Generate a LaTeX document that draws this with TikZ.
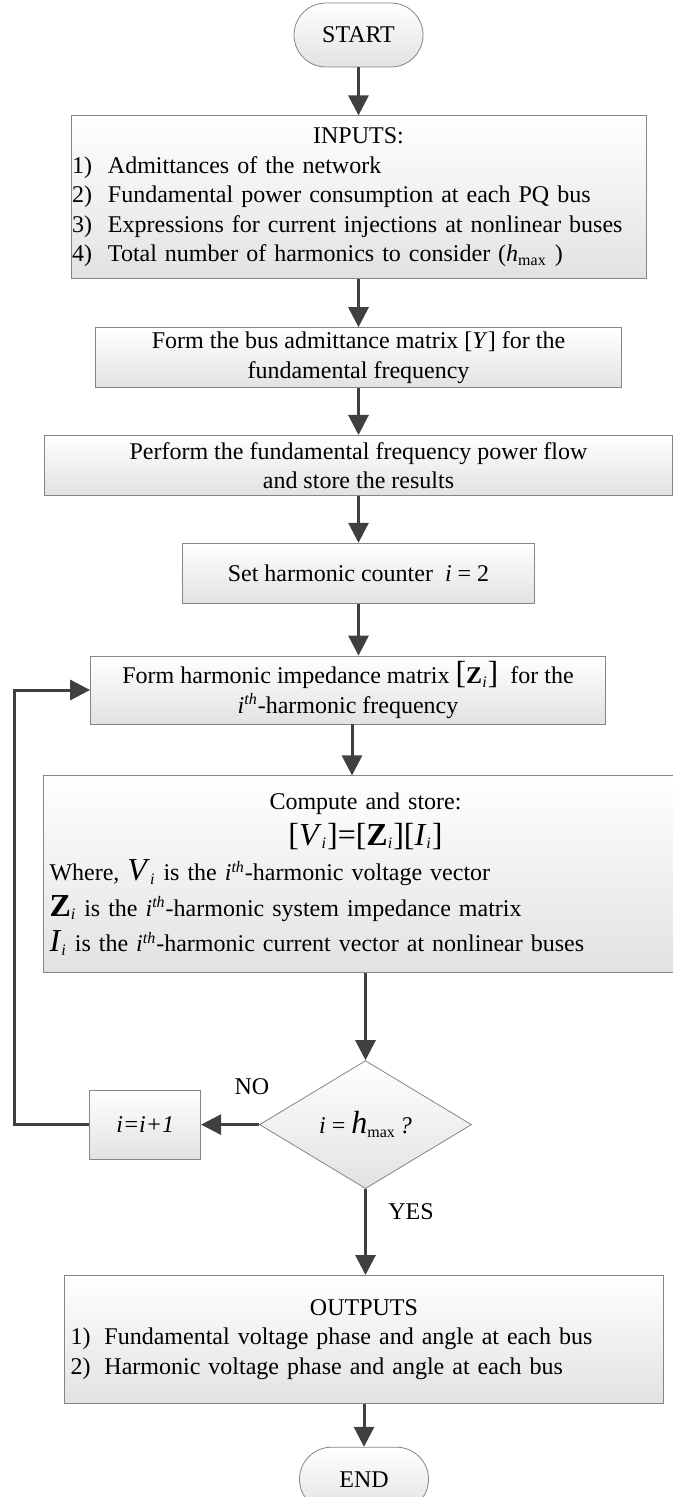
\documentclass[tikz,border=0pt]{standalone}
\usepackage{fontspec}
\setmainfont{Liberation Serif}
\usepackage{tikz}
\usetikzlibrary{positioning,shapes.geometric,arrows.meta}
\definecolor{linegray}{HTML}{404040}
\definecolor{edgegray}{HTML}{858585}
\definecolor{shadegray}{HTML}{E2E2E2}
\newcommand{\isub}[1]{\textsubscript{\textit{#1}}}
\newcommand{\ith}{\textit{i}\textsuperscript{\textit{th}}}
\newcommand{\bigbr}[1]{{\fontsize{16}{16}\selectfont#1}}

\begin{document}
\begin{tikzpicture}[
    x=0.5pt, y=-0.5pt,
    node distance=24pt,
    every node/.style={
        font=\fontsize{12}{14.7}\selectfont,
        align=center
    },
    terminal/.style={
        rectangle,
        rounded corners=16pt,
        draw=edgegray,
        top color=white,
        bottom color=shadegray,
        minimum width=64.5pt,
        minimum height=32pt
    },
    process/.style={
        rectangle,
        draw=edgegray,
        top color=white,
        bottom color=shadegray,
        inner sep=0.5pt
    },
    decision/.style={
        diamond,
        draw=edgegray,
        top color=white,
        bottom color=shadegray,
        inner sep=0pt,
        minimum width=106pt,
        minimum height=64pt
    },
    answer/.style={
        inner sep=0pt
    },
    arrow/.style={
        -{Triangle[length=10pt,width=10pt]},
        line width=1.5pt,
        color=linegray
    }
]

\useasboundingbox (0,0) rectangle (673,1497);

\node[terminal] (start) at (358.5,35) {START};
\node[process, below=of start, minimum width=287.5pt, minimum height=81.5pt, text width=286.5pt, align=left] (inp) {\makebox[\linewidth]{INPUTS:}\\
    \makebox[18pt][l]{1)}Admittances of the network\\
    \makebox[18pt][l]{2)}Fundamental power consumption at each PQ bus\\
    \makebox[18pt][l]{3)}Expressions for current injections at nonlinear buses\\
    \makebox[18pt][l]{4)}Total number of harmonics to consider (\textit{h}\textsubscript{max} )};
\node[process, below=of inp, minimum width=263pt, minimum height=30pt] (ybus) {Form the bus admittance matrix [\textit{Y}] for the\\fundamental frequency};
\node[process, below=23.5pt of ybus, minimum width=314pt, minimum height=30pt] (pflow) {Perform the fundamental frequency power flow\\and store the results};
\node[process, below=23.5pt of pflow, minimum width=176pt, minimum height=30pt] (cnt) {Set harmonic counter~~\textit{i} = 2};
\node[process, below=26pt of cnt, xshift=-5.25pt, minimum width=257.5pt, minimum height=34pt] (zmat) {Form harmonic impedance matrix \bigbr{[}\textbf{Z}\isub{i}\bigbr{]}~~for the\\\ith-harmonic frequency};
\node[process, below=25.5pt of zmat, xshift=8.75pt, minimum width=322pt, minimum height=98.5pt, text width=316pt, inner xsep=3pt, align=left, font=\fontsize{12}{17.75}\selectfont] (comp) {\makebox[\linewidth]{Compute and store:}\\
    \makebox[\linewidth]{\bigbr{[\textit{V}}\isub{i}\bigbr{]=[\textbf{Z}}\isub{i}\bigbr{][\textit{I}}\isub{i}\bigbr{]}}\\
    Where, \bigbr{\textit{V}}\isub{i} is the \ith-harmonic voltage vector\\
    \bigbr{\textbf{Z}}\isub{i} is the \ith-harmonic system impedance matrix\\
    \bigbr{\textit{I}}\isub{i} is the \ith-harmonic current vector at nonlinear buses};
\node[decision, below=43.5pt of comp] (chk) {\textit{i} = \bigbr{\textit{h}}\textsubscript{max}\,\textit{?}};
\node[process, left=29pt of chk, minimum width=55.5pt, minimum height=34.5pt] (incr) {\textit{i=i+1}};
\node[process, below=43pt of chk, xshift=-0.75pt, minimum width=299.5pt, minimum height=64pt, text width=293.5pt, inner xsep=3pt, align=left] (outp) {\makebox[\linewidth]{OUTPUTS}\\
    \makebox[17pt][l]{1)}Fundamental voltage phase and angle at each bus\\
    \makebox[17pt][l]{2)}Harmonic voltage phase and angle at each bus};
\node[terminal, below=21.5pt of outp] (stop) {END};

\node[answer] (no) at (252,1087) {NO};
\node[answer] (yes) at (411,1212) {YES};

\draw[arrow] (start) -- (inp);
\draw[arrow] (inp) -- (inp |- ybus.north);
\draw[arrow] (ybus) -- (ybus |- pflow.north);
\draw[arrow] (pflow) -- (pflow |- cnt.north);
\draw[arrow] (cnt) -- (cnt |- zmat.north);
\draw[arrow] ([xshift=2pt]zmat.south) -- ([xshift=2pt]zmat.south |- comp.north);
\draw[arrow] (comp) -- (chk);
\draw[arrow] (chk) -- (chk |- outp.north);
\draw[arrow] (outp) -- (outp |- stop.north);
\draw[arrow] (chk) -- (incr);
\draw[arrow] (incr.west) -- ++(-37.5pt,0) |- (zmat.west);

\end{tikzpicture}
\end{document}
